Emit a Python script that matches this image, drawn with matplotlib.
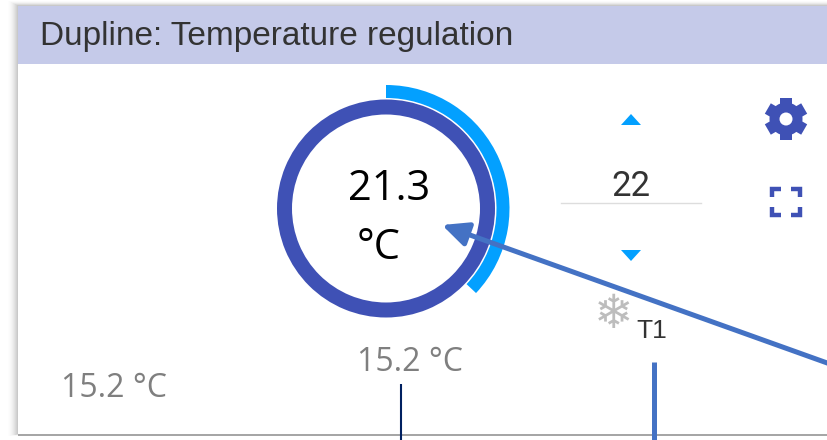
import matplotlib
matplotlib.use('Agg')
import matplotlib.pyplot as plt
import numpy as np
from matplotlib.patches import Circle, Polygon, Rectangle, Wedge

title = 'Dupline: Temperature regulation'
current_value = '21.3'
unit = '°C'
setpoint = '22'
outside_temp = '15.2 °C'
tariff = 'T1'
gauge_fraction = 0.37

INDIGO = '#3F51B5'
SKY = '#03A0FF'
ARROW = '#4472C4'
GREY = '#7F7F7F'


def draw_card(ax):
    # soft shadow round the card, then the card and its header
    for i in range(10):
        pad = 10 - i
        ax.add_patch(Rectangle((18 - pad, 6 - pad * 0.5), 830, 428 + pad * 0.7,
                               color='#000000', alpha=0.006 + i * 0.0035, lw=0))
    ax.add_patch(Rectangle((18, 433), 830, 3, color='#A6A6A6', lw=0))
    ax.add_patch(Rectangle((18, 6), 830, 428, color='white', lw=0))
    ax.add_patch(Rectangle((18, 6), 830, 58.5, color='#C5CAE9', lw=0))
    ax.text(40, 45, title, fontsize=24.05, family='Liberation Sans', color='#333333')


def draw_gauge(ax):
    cx, cy = 386, 208.5
    # y axis runs downward, so angles grow clockwise from -90 at the top
    end = -90 + 360 * gauge_fraction
    ax.add_patch(Wedge((cx, cy), 123.5, -90, end, width=13, color=SKY, lw=0))
    ax.add_patch(Wedge((cx, cy), 109, 0, 360, width=15, color=INDIGO, lw=0))
    ax.text(389, 200, current_value, fontsize=30, family='Open Sans', color='black', ha='center')
    ax.text(379, 259, unit, fontsize=30, family='Open Sans', color='black', ha='center')


def draw_setpoint(ax):
    ax.add_patch(Polygon([(621, 125), (641, 125), (631, 114)], color=SKY, lw=0))
    ax.add_patch(Polygon([(621, 250), (641, 250), (631, 261)], color=SKY, lw=0))
    ax.text(631, 196, setpoint, fontsize=25, family='Roboto', color='#333333', ha='center')
    ax.plot([561, 701], [203, 203], color='#DDDDDD', lw=1)


def draw_icons(ax):
    # gear
    gx, gy = 786, 119
    for a in np.arange(30, 180, 60):
        t = np.radians(a)
        dx, dy = np.cos(t), np.sin(t)
        nx, ny = -dy, dx
        w, r = 6, 21
        ax.add_patch(Polygon([(gx - r * dx - w * nx, gy - r * dy - w * ny),
                              (gx - r * dx + w * nx, gy - r * dy + w * ny),
                              (gx + r * dx + w * nx, gy + r * dy + w * ny),
                              (gx + r * dx - w * nx, gy + r * dy - w * ny)],
                             color=INDIGO, lw=0))
    ax.add_patch(Circle((gx, gy), 16.5, color=INDIGO, lw=0))
    ax.add_patch(Circle((gx, gy), 6.5, color='white', lw=0))

    # fullscreen corners
    x0, x1, y0, y1 = 772, 800, 189, 215
    for sx, sy in [(x0, y0), (x1, y0), (x0, y1), (x1, y1)]:
        hx = 9 if sx == x0 else -9
        hy = 8 if sy == y0 else -8
        ax.plot([sx + hx, sx, sx], [sy, sy, sy + hy], color=INDIGO, lw=3.2,
                solid_capstyle='butt', solid_joinstyle='miter')

    ax.text(613.5, 316, '\u2744', fontsize=34, family='DejaVu Sans', color='#BDBDBD',
            ha='center', va='center')
    ax.text(652, 338, tariff, fontsize=19, family='Liberation Sans', color='#333333', ha='center')


def draw_annotations(ax):
    ax.text(410, 371, outside_temp, fontsize=23, family='Open Sans', color=GREY, ha='center')
    ax.text(114.5, 397, outside_temp, fontsize=23, family='Open Sans', color=GREY, ha='center')
    ax.plot([401.5, 401.5], [384, 440], color='#002060', lw=1.5, solid_capstyle='butt')
    ax.plot([654, 654], [362, 440], color=ARROW, lw=3.6, solid_capstyle='butt')
    ax.annotate('', xy=(442, 225), xytext=(830, 364),
                arrowprops=dict(arrowstyle='-|>,head_length=0.6,head_width=0.28', color=ARROW,
                                lw=3.6, mutation_scale=26, shrinkA=0, shrinkB=0))


fig = plt.figure(figsize=(8.28, 4.40), dpi=100)
ax = fig.add_axes([0, 0, 1, 1])
ax.set_xlim(0, 828)
ax.set_ylim(440, 0)
ax.axis('off')

draw_card(ax)
draw_gauge(ax)
draw_setpoint(ax)
draw_icons(ax)
draw_annotations(ax)

fig.savefig('out.png', dpi=100)
